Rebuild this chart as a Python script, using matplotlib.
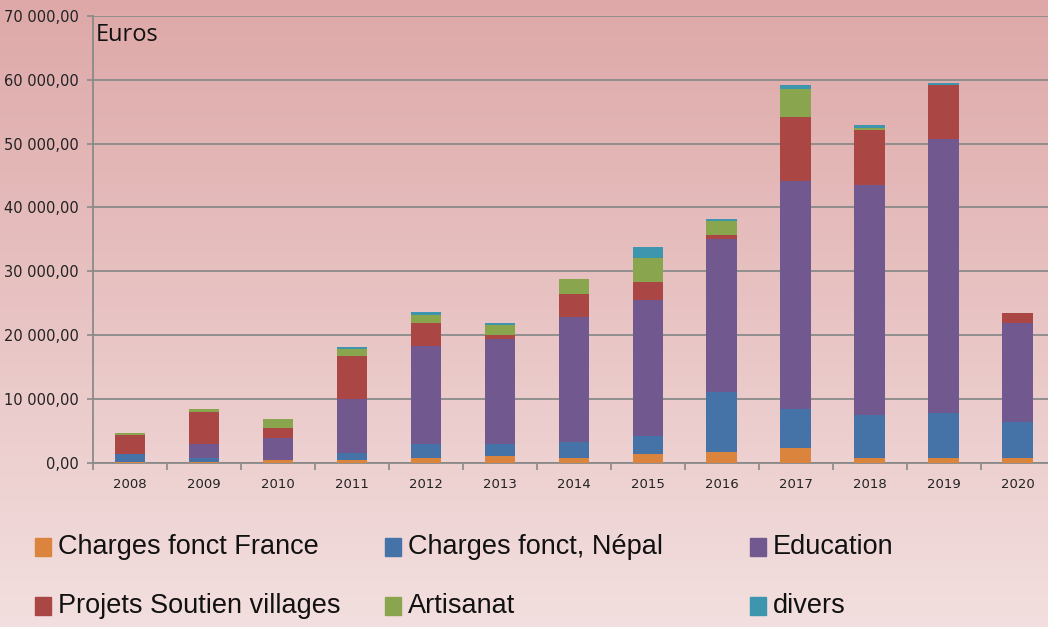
import numpy as np
import matplotlib.pyplot as plt
from matplotlib.patches import Rectangle
from matplotlib.ticker import FuncFormatter, FixedLocator

years = ["2008", "2009", "2010", "2011", "2012", "2013", "2014",
         "2015", "2016", "2017", "2018", "2019", "2020"]

france    = [100, 150, 400, 420, 780, 1100, 780, 1410, 1720, 2350, 780, 780, 780]
nepal     = [1300, 650, 100, 1050, 2200, 1880, 2510, 2820, 9410, 6020, 6650, 6960, 5650]
education = [0, 2200, 3400, 8460, 15360, 16360, 19500, 21310, 23880, 35730, 36040, 42940, 15420]
projets   = [2900, 5000, 1600, 6840, 3510, 630, 3700, 2830, 630, 10030, 8720, 8460, 1560]
artisanat = [300, 370, 1300, 1000, 1250, 1560, 2250, 3760, 2190, 4440, 310, 0, 0]
divers    = [0, 0, 0, 310, 570, 320, 0, 1620, 310, 570, 370, 360, 0]

series = [france, nepal, education, projets, artisanat, divers]
labels = ["Charges fonct France", "Charges fonct, Népal", "Education",
          "Projets Soutien villages", "Artisanat", "divers"]
colors = ["#DB843D", "#4572A7", "#71588F", "#AA4643", "#89A54E", "#3D96AE"]

fig = plt.figure(figsize=(10.48, 6.27), dpi=100)

# background gradient (darker pink at top)
bg = fig.add_axes([0, 0, 1, 1], zorder=-10)
grad = np.linspace(0, 1, 256).reshape(-1, 1)
top = np.array([222, 168, 168]) / 255
bot = np.array([243, 223, 223]) / 255
img = top + (bot - top) * grad[:, :, None] * np.ones((1, 1, 3))
bg.imshow(img, aspect="auto", extent=[0, 1, 0, 1])
bg.set_axis_off()

ax = fig.add_axes([0.0887, 0.262, 0.9175, 0.7125])
ax.patch.set_alpha(0)

x = np.arange(len(years))
bottom = np.zeros(len(years))
for vals, lab, col in zip(series, labels, colors):
    ax.bar(x, vals, width=0.41, bottom=bottom, color=col, label=lab, zorder=3)
    bottom += np.array(vals)

ax.set_xlim(-0.5, len(years) - 0.5)
ax.set_ylim(0, 70000)
ax.set_yticks(np.arange(0, 70001, 10000))
ax.yaxis.set_major_formatter(FuncFormatter(
    lambda v, p: "{:,.2f}".format(v).replace(",", " ").replace(".", ",")))
ax.grid(axis="y", color="#8a8a8a", linewidth=1.3, zorder=0)

ax.set_xticks(x)
ax.set_xticklabels(years)
ax.xaxis.set_minor_locator(FixedLocator(np.arange(-0.5, len(years), 1)))
ax.tick_params(axis="x", which="major", length=0, pad=11, labelsize=9.5, colors="#222222")
ax.tick_params(axis="x", which="minor", length=5, width=1.2, color="#8a8a8a")
ax.tick_params(axis="y", length=4, width=1.2, color="#8a8a8a", labelsize=10.5,
               labelcolor="#222222", pad=6)

for s in ["top", "right"]:
    ax.spines[s].set_visible(False)
for s in ["left", "bottom"]:
    ax.spines[s].set_color("#8a8a8a")
    ax.spines[s].set_linewidth(1.3)

ax.text(0.003, 0.985, "Euros", transform=ax.transAxes, fontsize=17,
        va="top", ha="left", color="#111111", family="Open Sans")

# legend laid out in two rows of three
col_x = [35, 385, 750]
row_y = [547, 606]
for i, (lab, col) in enumerate(zip(labels, colors)):
    cx = col_x[i % 3]
    cy = row_y[i // 3]
    fig.patches.append(Rectangle(((cx) / 1048, 1 - (cy + 9) / 627), 16 / 1048, 18 / 627,
                                 transform=fig.transFigure, color=col, figure=fig))
    fig.text((cx + 23) / 1048, 1 - cy / 627, lab, fontsize=19.5, va="center", ha="left",
             color="#111111", family="Liberation Sans")

fig.savefig("out.png", dpi=100)
